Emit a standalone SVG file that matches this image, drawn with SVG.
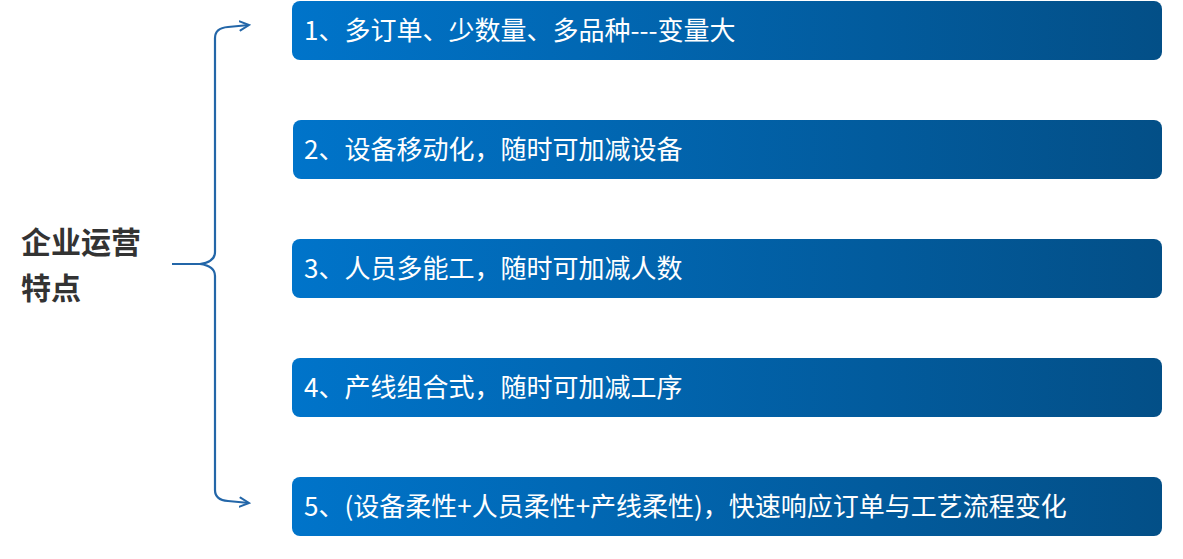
<svg xmlns="http://www.w3.org/2000/svg" width="1183" height="559" viewBox="0 0 1183 559">
<defs>
<linearGradient id="g" x1="0" y1="0" x2="1" y2="0">
<stop offset="0" stop-color="#0074CA"/>
<stop offset="1" stop-color="#034F87"/>
</linearGradient>
<marker id="arr" markerWidth="12" markerHeight="12" refX="10" refY="6" orient="auto" markerUnits="userSpaceOnUse">
<path d="M1,1.5 L10,6 L1,10.5" fill="none" stroke="#2366A8" stroke-width="2" stroke-linecap="round"/>
</marker>
<style>
.box{fill:url(#g);}
.t{font-family:"Noto Sans CJK SC","Liberation Sans",sans-serif;font-size:26px;fill:#fff;}
.h{font-family:"Noto Sans CJK SC","Liberation Sans",sans-serif;font-size:30px;font-weight:bold;fill:#333;}
.c{fill:none;stroke:#2366A8;stroke-width:2.2;}
</style>
</defs>
<rect width="1183" height="559" fill="#fff"/>
<g id="title">
<text class="h" x="21" y="253">企业运营</text>
<text class="h" x="21" y="299">特点</text>
</g>
<g id="connectors">
<path class="c" d="M172,264 L200,264 Q215,262 215,252 L215,38 Q215,28 228,27 L249,25" marker-end="url(#arr)"/>
<path class="c" d="M200,264 Q215,266 215,276 L215,490 Q215,500 228,501 L249,503" marker-end="url(#arr)"/>
</g>
<g id="n1"><rect class="box" x="292" y="1" width="870" height="59" rx="8"/><text class="t" x="304" y="40">1、多订单、少数量、多品种---变量大</text></g>
<g id="n2"><rect class="box" x="293" y="120" width="869" height="59" rx="8"/><text class="t" x="304" y="159">2、设备移动化，随时可加减设备</text></g>
<g id="n3"><rect class="box" x="292" y="239" width="870" height="59" rx="8"/><text class="t" x="304" y="278">3、人员多能工，随时可加减人数</text></g>
<g id="n4"><rect class="box" x="292" y="358" width="870" height="59" rx="8"/><text class="t" x="304" y="397">4、产线组合式，随时可加减工序</text></g>
<g id="n5"><rect class="box" x="292" y="477" width="870" height="59" rx="8"/><text class="t" x="304" y="516">5、(设备柔性+人员柔性+产线柔性)，快速响应订单与工艺流程变化</text></g>
</svg>
